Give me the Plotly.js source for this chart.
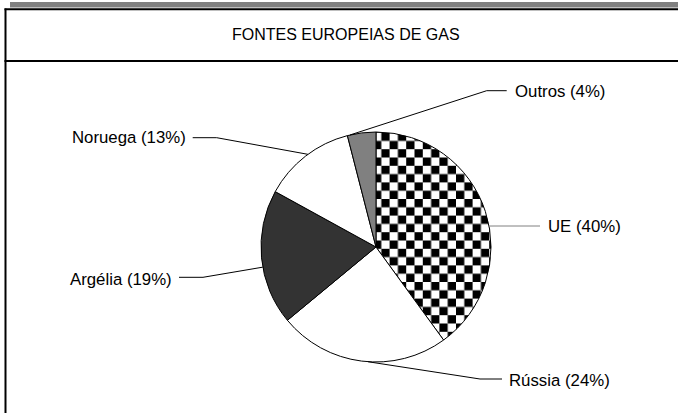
<!DOCTYPE html>
<html>
<head>
<meta charset="utf-8">
<script src="https://cdn.plot.ly/plotly-3.0.1.min.js"></script>
<style>html,body{margin:0;padding:0;background:#fff;}#chart{width:678px;height:413px;}</style>
</head>
<body>
<div id="chart"></div>
<script>
// ---- data ----
const categories = ['UE', 'Rússia', 'Argélia', 'Noruega', 'Outros'];
const shares = [40, 24, 19, 13, 4];
const sliceColors = ['#ffffff', '#ffffff', '#333333', '#ffffff', '#808080'];
const chartTitle = 'FONTES EUROPEIAS DE GAS';

// ---- layout helpers (pixel geometry) ----
const W = 678, H = 413;
const CX = 376, CY = 247, R = 115;
const px = x => x / W;
const py = y => 1 - y / H;
// leader line: angle on pie rim (deg clockwise from top), elbow, end, label anchor
const leaders = [
  {ang: 79.5,  elbow: [495, 226],   end: [540, 226],   text: [546, 227], anchor: 'left',  color: '#808080'},
  {ang: 184,   elbow: [480, 379],   end: [502, 379],   text: [507, 380.5], anchor: 'left',  color: '#000'},
  {ang: 259.9, elbow: [203, 277.3], end: [179, 277.3], text: [174, 279], anchor: 'right', color: '#000'},
  {ang: 323.7, elbow: [216.7, 137.7], end: [192.7, 137.7], text: [188, 137.5], anchor: 'right', color: '#000'},
  {ang: 346.9, elbow: [486.7, 90.7], end: [506.7, 90.7], text: [513, 91.5], anchor: 'left',  color: '#000'}
];

const font = {family: 'Liberation Sans, Arial, sans-serif', size: 16.8, color: '#000'};

const shapes = [
  {type: 'rect', xref: 'paper', yref: 'paper', x0: px(10), x1: px(678), y0: py(2), y1: py(7.5), fillcolor: '#808080', line: {width: 0}},
  {type: 'line', xref: 'paper', yref: 'paper', x0: px(4.5), x1: px(678), y0: py(9.2), y1: py(9.2), line: {color: '#000', width: 2}},
  {type: 'line', xref: 'paper', yref: 'paper', x0: px(5.5), x1: px(5.5), y0: py(8.5), y1: py(413), line: {color: '#000', width: 2}},
  {type: 'line', xref: 'paper', yref: 'paper', x0: px(4.5), x1: px(678), y0: py(61), y1: py(61), line: {color: '#000', width: 2}}
];
const annotations = [
  {xref: 'paper', yref: 'paper', x: px(345.5), y: py(34.5), text: chartTitle, showarrow: false, xanchor: 'center', yanchor: 'middle', font: Object.assign({}, font, {size: 16})}
];

categories.forEach((c, i) => {
  const L = leaders[i];
  const a = L.ang * Math.PI / 180;
  const ex = CX + R * Math.sin(a), ey = CY - R * Math.cos(a);
  shapes.push({
    type: 'path', xref: 'paper', yref: 'paper',
    path: `M${px(ex)},${py(ey)} L${px(L.elbow[0])},${py(L.elbow[1])} L${px(L.end[0])},${py(L.end[1])}`,
    line: {color: L.color, width: 1}
  });
  annotations.push({
    xref: 'paper', yref: 'paper', x: px(L.text[0]), y: py(L.text[1]),
    text: `${c} (${shares[i]}%)`, showarrow: false, xanchor: L.anchor, yanchor: 'middle', font: font
  });
});

const trace = {
  type: 'pie',
  labels: categories,
  values: shares,
  sort: false,
  direction: 'clockwise',
  rotation: 0,
  textinfo: 'none',
  hoverinfo: 'none',
  showlegend: false,
  marker: {colors: sliceColors, line: {color: '#000', width: 1}},
  domain: {x: [px(CX - R), px(CX + R)], y: [py(CY + R), py(CY - R)]}
};

const layout = {
  width: W, height: H,
  margin: {l: 0, r: 0, t: 0, b: 0},
  paper_bgcolor: '#fff', plot_bgcolor: '#fff',
  showlegend: false,
  shapes: shapes,
  annotations: annotations,
  font: font
};

Plotly.newPlot('chart', [trace], layout, {staticPlot: true, displayModeBar: false}).then(gd => {
  const NS = 'http://www.w3.org/2000/svg';
  const svg = gd.querySelector('.main-svg');
  let defs = svg.querySelector('defs');
  if (!defs) { defs = document.createElementNS(NS, 'defs'); svg.insertBefore(defs, svg.firstChild); }
  const S = 8.3, P = 2 * S;
  const paths = Array.from(gd.querySelectorAll('.pielayer .slice path.surface'));
  let target = paths.find(p => p.parentNode.__data__ && p.parentNode.__data__.i === 0) || paths[0];
  if (!target) return;
  const ctm = target.getCTM();
  const pat = document.createElementNS(NS, 'pattern');
  pat.setAttribute('id', 'checker');
  pat.setAttribute('patternUnits', 'userSpaceOnUse');
  pat.setAttribute('width', P);
  pat.setAttribute('height', P);
  pat.setAttribute('x', 373 - (ctm ? ctm.e : 0));
  pat.setAttribute('y', 199 - (ctm ? ctm.f : 0));
  const mk = (x, y, w, h, f) => { const r = document.createElementNS(NS, 'rect'); r.setAttribute('x', x); r.setAttribute('y', y); r.setAttribute('width', w); r.setAttribute('height', h); r.setAttribute('fill', f); pat.appendChild(r); };
  mk(0, 0, P, P, '#ffffff');
  mk(S, 0, S, S, '#000000');
  mk(0, S, S, S, '#000000');
  defs.appendChild(pat);
  target.style.fill = 'url(#checker)';
  target.style.fillOpacity = 1;
});
</script>
</body>
</html>
